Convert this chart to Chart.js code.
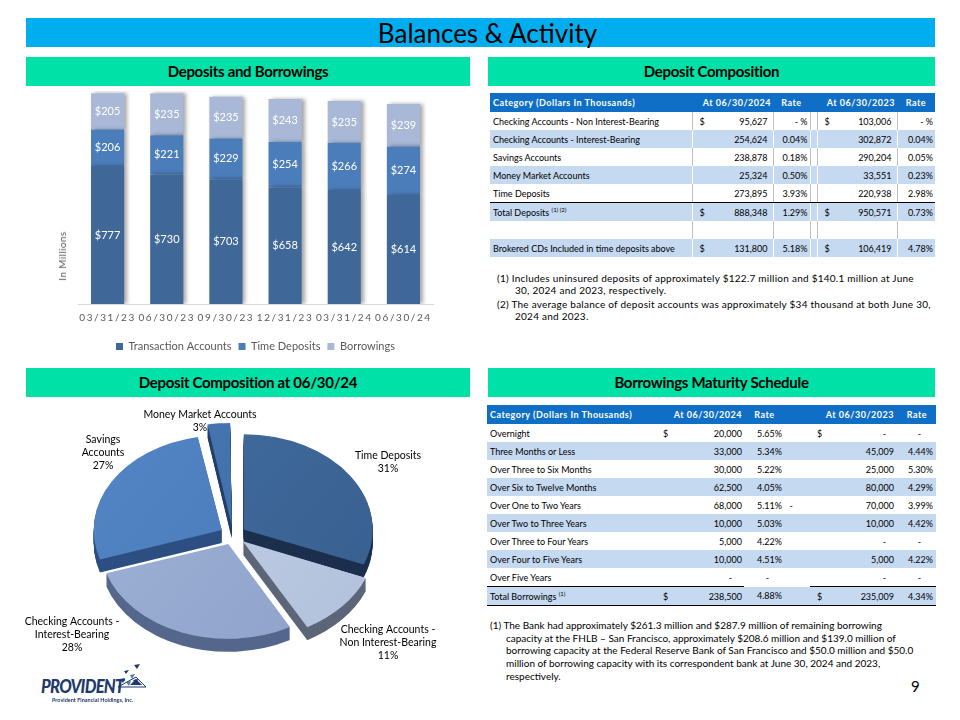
<!DOCTYPE html>
<html>
<head>
<meta charset="utf-8">
<title>Balances & Activity</title>
<script src="https://cdn.jsdelivr.net/npm/chart.js@4.4.1/dist/chart.umd.min.js"></script>
<style>
    body { margin: 0; width: 960px; height: 720px; background: #fff; position: relative; overflow: hidden; font-family: Lato, 'Open Sans', sans-serif; color: #000; }
    .abs { position: absolute; }
    .title-bar { left: 26px; top: 18px; width: 909px; height: 29px; background: #00AEEF; text-align: center; line-height: 30px; font-size: 26px; box-sizing: border-box; padding-left: 14px; }
    .sec { height: 29px; background: #00E1A7; text-align: center; line-height: 29px; font-size: 15px; font-weight: bold; letter-spacing: -0.3px; }
    .yt { left: 62px; top: 256px; transform: translate(-50%, -50%) rotate(-90deg); font-size: 10px; color: #595959; white-space: nowrap; letter-spacing: 0.4px; }
    table.t { position: absolute; border-collapse: collapse; table-layout: fixed; font-size: 9px; }
    table.t td { padding: 0; height: 18px; white-space: nowrap; overflow: visible; vertical-align: middle; }
    table.t tr.h td { background: #0F6FC6; color: #fff; font-weight: bold; height: 19px; font-size: 9px; letter-spacing: 0.5px; }
    table.t tr.b td { background: #C5D9F1; }
    table.t td.lab { padding-left: 3px; }
    table.t td.r { text-align: right; padding-right: 2px; }
    table.t td.c { text-align: center; }
    .mv { display: flex; justify-content: space-between; }
    #dep td.dv { border-left: 1px solid #BFBFBF; }
    #dep tr.b td.dv { border-left: 1px solid #fff; }
    #dep tr.line td { border-bottom: 1px solid #000; }
    #bor tr.tot td { border-bottom: 1px solid #000; }
    #bor tr.tot td.tl { border-top: 1px solid #000; }
    sup { font-size: 6px; vertical-align: 4px; letter-spacing: 0; }
    .note { font-size: 10px; line-height: 12px; }
    .note p { margin: 0 0 2px 0; padding-left: 18px; text-indent: -18px; }
</style>
</head>
<body>

<div class="abs title-bar">Balances &amp; Activity</div>
<div class="abs sec" style="left:26px; top:57px; width:444px;">Deposits and Borrowings</div>
<div class="abs sec" style="left:488px; top:57px; width:447px;">Deposit Composition</div>
<div class="abs sec" style="left:26px; top:368px; width:444px;">Deposit Composition at 06/30/24</div>
<div class="abs sec" style="left:488px; top:368px; width:447px;">Borrowings Maturity Schedule</div>

<div class="abs" style="left:26px; top:86px; width:444px; height:278px;"><canvas id="chart-bars"></canvas></div>
<div class="abs yt">In Millions</div>

<div class="abs" style="left:10px; top:397px; width:460px; height:276px;"><canvas id="chart-pie"></canvas></div>

<table class="t" id="dep" style="left:490px; top:93px; width:445px;">
    <colgroup><col style="width:202px"><col style="width:81px"><col style="width:37px"><col style="width:7px"><col style="width:80px"><col style="width:38px"></colgroup>
    <tbody id="dep-body"></tbody>
</table>

<div class="abs note" style="left:497px; top:272px; width:450px; letter-spacing:0.25px;">
    <p>(1) Includes uninsured deposits of approximately $122.7 million and $140.1 million at June<br>30, 2024 and 2023, respectively.</p>
    <p>(2) The average balance of deposit accounts was approximately $34 thousand at both June 30,<br>2024 and 2023.</p>
</div>

<table class="t" id="bor" style="left:487px; top:405px; width:449px;">
    <colgroup><col style="width:173px"><col style="width:84px"><col style="width:41px"><col style="width:25px"><col style="width:88px"><col style="width:38px"></colgroup>
    <tbody id="bor-body"></tbody>
</table>

<div class="abs note" style="left:490px; top:619px; width:460px; line-height:12.7px;">
    <p style="padding-left:16px; text-indent:-16px;">(1) The Bank had approximately $261.3 million and $287.9 million of remaining borrowing<br>capacity at the FHLB – San Francisco, approximately $208.6 million and $139.0 million of<br>borrowing capacity at the Federal Reserve Bank of San Francisco and $50.0 million and $50.0<br>million of borrowing capacity with its correspondent bank at June 30, 2024 and 2023,<br>respectively.</p>
</div>

<div class="abs" style="left:911px; top:677px; font-size:15px;">9</div>

<!-- logo -->
<div class="abs" style="left:41px; top:675px; font-size:18px; font-weight:900; font-style:italic; color:#1F3A6E; letter-spacing:-0.8px; transform:scaleX(0.92); transform-origin:left;">PROVIDENT</div>
<svg class="abs" style="left:116px; top:663px;" width="32" height="32" viewBox="0 0 32 32">
    <polygon points="18,2 24,1 21,6" fill="#1F3A6E"/>
    <polygon points="8,8 13,7 10,11" fill="#1F3A6E"/>
    <polygon points="14,12 19,11 16,16" fill="#5A79A8"/>
    <polygon points="4,16 9,15 7,20" fill="#1F3A6E"/>
    <polygon points="10,19 15,18 13,23" fill="#5A79A8"/>
    <polygon points="17,17 22,16 20,22" fill="#1F3A6E"/>
    <polygon points="2,24 30,24 20,14" fill="none" stroke="#1F3A6E" stroke-width="1"/>
    <polygon points="14,22 26,22 20,16" fill="#1F3A6E"/>
</svg>
<div class="abs" style="left:52px; top:697px; font-size:5.5px; font-weight:bold; color:#1F3A6E; white-space:nowrap;">Provident Financial Holdings, Inc.</div>

<script>
// ========================================
// BALANCES & ACTIVITY — DATA
// ========================================

// --- Deposits and Borrowings (in millions) ---
const quarters = ['03/31/23', '06/30/23', '09/30/23', '12/31/23', '03/31/24', '06/30/24'];
const transactionAccounts = [777, 730, 703, 658, 642, 614];
const timeDeposits = [206, 221, 229, 254, 266, 274];
const borrowings = [205, 235, 235, 243, 235, 239];
const barSeriesNames = ['Transaction Accounts', 'Time Deposits', 'Borrowings'];

// --- Deposit Composition at 06/30/24 (%) ---
const pieLabels = [
    ['Time Deposits'],
    ['Checking Accounts -', 'Non Interest-Bearing'],
    ['Checking Accounts -', 'Interest-Bearing'],
    ['Savings', 'Accounts'],
    ['Money Market Accounts']
];
const pieShares = [31, 11, 28, 27, 3];

// --- Deposit Composition table ---
const depositHeader = ['Category (Dollars In Thousands)', 'At 06/30/2024', 'Rate', 'At 06/30/2023', 'Rate'];
const depositCategories = ['Checking Accounts - Non Interest-Bearing', 'Checking Accounts - Interest-Bearing', 'Savings Accounts', 'Money Market Accounts', 'Time Deposits', 'Total Deposits', '', 'Brokered CDs Included in time deposits above'];
const deposits2024 = ['95,627', '254,624', '238,878', '25,324', '273,895', '888,348', '', '131,800'];
const depositRates2024 = ['- %', '0.04%', '0.18%', '0.50%', '3.93%', '1.29%', '', '5.18%'];
const deposits2023 = ['103,006', '302,872', '290,204', '33,551', '220,938', '950,571', '', '106,419'];
const depositRates2023 = ['- %', '0.04%', '0.05%', '0.23%', '2.98%', '0.73%', '', '4.78%'];

// --- Borrowings Maturity Schedule table ---
const borrowHeader = ['Category (Dollars In Thousands)', 'At 06/30/2024', 'Rate', 'At 06/30/2023', 'Rate'];
const borrowCategories = ['Overnight', 'Three Months or Less', 'Over Three to Six Months', 'Over Six to Twelve Months', 'Over One to Two Years', 'Over Two to Three Years', 'Over Three to Four Years', 'Over Four to Five Years', 'Over Five Years', 'Total Borrowings'];
const borrow2024 = ['20,000', '33,000', '30,000', '62,500', '68,000', '10,000', '5,000', '10,000', '-', '238,500'];
const borrowRates2024 = ['5.65%', '5.34%', '5.22%', '4.05%', '5.11%', '5.03%', '4.22%', '4.51%', '-', '4.88%'];
const borrow2023 = ['-', '45,009', '25,000', '80,000', '70,000', '10,000', '-', '5,000', '-', '235,009'];
const borrowRates2023 = ['-', '4.44%', '5.30%', '4.29%', '3.99%', '4.42%', '-', '4.22%', '-', '4.34%'];

// ========================================
// TABLES
// ========================================

const dash = v => v === '-';

function moneyCell(sign, val, padR) {
    return `<div class="mv" style="padding:0 ${padR}px 0 7px"><span>${sign}</span><span>${val}</span></div>`;
}

// --- Deposit table ---
(function () {
    const body = document.getElementById('dep-body');
    let html = `<tr class="h">
        <td class="lab">${depositHeader[0]}</td>
        <td class="r" style="padding-right:2px">${depositHeader[1]}</td>
        <td class="c">${depositHeader[2]}</td>
        <td></td>
        <td class="r" style="padding-right:2px">${depositHeader[3]}</td>
        <td class="c">${depositHeader[4]}</td></tr>`;
    depositCategories.forEach((cat, i) => {
        const blue = [1, 3, 5, 7].includes(i);
        const cls = (blue ? 'b' : '') + (i === 4 ? ' line' : '');
        const sign = [0, 5, 7].includes(i) ? '$' : '';
        const label = i === 5 ? `${cat} <sup>(1) (2)</sup>` : cat;
        html += `<tr class="${cls}">
            <td class="lab">${label}</td>
            <td class="dv">${moneyCell(sign, deposits2024[i], 5)}</td>
            <td class="dv r">${depositRates2024[i]}</td>
            <td class="dv"></td>
            <td class="dv">${moneyCell(sign, deposits2023[i], 5)}</td>
            <td class="dv r">${depositRates2023[i]}</td></tr>`;
    });
    body.innerHTML = html;
})();

// --- Borrowings table ---
(function () {
    const body = document.getElementById('bor-body');
    let html = `<tr class="h">
        <td class="lab">${borrowHeader[0]}</td>
        <td class="r" style="padding-right:2px">${borrowHeader[1]}</td>
        <td class="c">${borrowHeader[2]}</td>
        <td></td>
        <td class="r" style="padding-right:4px">${borrowHeader[3]}</td>
        <td class="c">${borrowHeader[4]}</td></tr>`;
    borrowCategories.forEach((cat, i) => {
        const last = i === borrowCategories.length - 1;
        const blue = i % 2 === 1;
        const sign = (i === 0 || last) ? '$' : '';
        const label = last ? `${cat} <sup>(1)</sup>` : cat;
        const stray = i === 4 ? '&nbsp;&nbsp;-' : '';
        html += `<tr class="${blue ? 'b' : ''}${last ? ' tot' : ''}">
            <td class="lab tl">${label}</td>
            <td class="tl"><div class="mv" style="padding:0 ${dash(borrow2024[i]) ? 12 : 2}px 0 3px"><span>${sign}</span><span>${borrow2024[i]}</span></div></td>
            <td class="r" style="padding-right:${dash(borrowRates2024[i]) ? 16 : 3}px">${borrowRates2024[i]}</td>
            <td>${stray}</td>
            <td class="tl"><div class="mv" style="padding:0 ${dash(borrow2023[i]) ? 12 : 4}px 0 7px"><span>${sign}</span><span>${borrow2023[i]}</span></div></td>
            <td class="r tl" style="padding-right:${dash(borrowRates2023[i]) ? 15 : 3}px">${borrowRates2023[i]}</td></tr>`;
    });
    body.innerHTML = html;
})();

// ========================================
// CHARTS
// ========================================

Chart.defaults.font.family = "Lato, 'Open Sans', sans-serif";
Chart.defaults.animation = false;

// --- Bar chart extras: shadow, value labels, spaced x ticks ---
const barExtras = {
    id: 'barExtras',
    beforeDraw(chart) {
        chart.ctx.letterSpacing = '0px';
    },
    beforeDatasetsDraw(chart) {
        const ctx = chart.ctx;
        ctx.save();
        ctx.shadowColor = 'rgba(0, 0, 0, 0.35)';
        ctx.shadowBlur = 4;
        ctx.shadowOffsetX = 3;
        ctx.shadowOffsetY = 0;
    },
    afterDatasetsDraw(chart) {
        const ctx = chart.ctx;
        ctx.restore();
        ctx.save();
        ctx.font = "11px Lato, 'Open Sans', sans-serif";
        ctx.fillStyle = '#ffffff';
        ctx.textAlign = 'center';
        ctx.textBaseline = 'middle';
        chart.data.datasets.forEach((ds, di) => {
            chart.getDatasetMeta(di).data.forEach((bar, i) => {
                ctx.fillText('$' + ds.data[i], bar.x, (bar.y + bar.base) / 2);
            });
        });
        ctx.restore();
        // x tick labels come after this (ticks.z = 1), with wide tracking
        ctx.letterSpacing = '1.6px';
    },
    afterDraw(chart) {
        chart.ctx.letterSpacing = '0px';
    }
};

new Chart(document.getElementById('chart-bars'), {
    type: 'bar',
    data: {
        labels: quarters,
        datasets: [
            { label: barSeriesNames[0], data: transactionAccounts, backgroundColor: '#3F6798' },
            { label: barSeriesNames[1], data: timeDeposits, backgroundColor: '#4B7DBA' },
            { label: barSeriesNames[2], data: borrowings, backgroundColor: '#A8B8D6' },
        ]
    },
    options: {
        responsive: true,
        maintainAspectRatio: false,
        events: [],
        layout: { padding: { left: 52, right: 37, top: 5, bottom: 2 } },
        datasets: { bar: { barPercentage: 0.7, categoryPercentage: 0.8, borderWidth: 0 } },
        plugins: {
            tooltip: { enabled: false },
            legend: {
                position: 'bottom',
                labels: { boxWidth: 7, boxHeight: 7, padding: 7, color: '#595959', font: { size: 11 } }
            }
        },
        scales: {
            x: {
                stacked: true,
                grid: { display: false, drawTicks: false },
                border: { display: true, color: '#D9D9D9' },
                ticks: { z: 1, color: '#595959', font: { size: 10 }, padding: 8, maxRotation: 0, autoSkip: false },
                afterFit(scale) { scale.height += 2; }
            },
            y: { stacked: true, display: false, min: 0, max: 1200 }
        }
    },
    plugins: [barExtras]
});

// --- Pie chart: tilted, exploded, with depth ---
const pieTop = [['#4670A3', '#345C8C'], ['#C6D2E8', '#AEBED9'], ['#A2B4D8', '#8A9FC8'], ['#5687C6', '#4475B5'], ['#4A79B4', '#3A68A2']];
const pieSide = ['#1C2F4D', '#5C6678', '#55678C', '#2D4F82', '#22406B'];

function squash(ctx, cx, cy, tilt) {
    ctx.translate(cx, cy);
    ctx.scale(1, tilt);
    ctx.translate(-cx, -cy);
}

function topFill(context) {
    const c = pieTop[context.dataIndex];
    const area = context.chart.chartArea;
    if (!area) return c[0];
    const g = context.chart.ctx.createLinearGradient(area.left, area.top, area.right, area.bottom);
    g.addColorStop(0, c[0]);
    g.addColorStop(1, c[1]);
    return g;
}

const pie3d = {
    id: 'pie3d',
    beforeDatasetsDraw(chart, args, opts) {
        const ctx = chart.ctx;
        const arcs = chart.getDatasetMeta(0).data;
        const cx = arcs[0].x, cy = arcs[0].y;
        ctx.save();
        for (let d = opts.depth; d > 0; d--) {
            ctx.save();
            ctx.translate(0, d);
            squash(ctx, cx, cy, opts.tilt);
            arcs.forEach((arc, i) => {
                const side = Object.create(arc);
                side.options = Object.assign({}, arc.options, { backgroundColor: pieSide[i] });
                side.draw(ctx);
            });
            ctx.restore();
        }
        squash(ctx, cx, cy, opts.tilt);
    },
    afterDatasetsDraw(chart, args, opts) {
        const ctx = chart.ctx;
        ctx.restore();
        const arcs = chart.getDatasetMeta(0).data;
        const cx = arcs[0].x, cy = arcs[0].y;
        ctx.save();
        ctx.font = "10.5px Lato, 'Open Sans', sans-serif";
        ctx.fillStyle = '#000';
        ctx.textAlign = 'center';
        ctx.textBaseline = 'middle';
        pieLabels.forEach((lines, i) => {
            const all = lines.concat([pieShares[i] + '%']);
            const [dx, dy] = opts.labelOffsets[i];
            const y0 = cy + dy - (all.length - 1) * opts.lineHeight / 2;
            all.forEach((t, k) => ctx.fillText(t, cx + dx, y0 + k * opts.lineHeight));
        });
        ctx.restore();
    }
};

new Chart(document.getElementById('chart-pie'), {
    type: 'pie',
    data: {
        labels: pieLabels.map(l => l.join(' ')),
        datasets: [{
            data: pieShares,
            backgroundColor: topFill,
            borderWidth: 0,
            offset: 52,
        }]
    },
    options: {
        responsive: true,
        maintainAspectRatio: false,
        events: [],
        rotation: 0,
        radius: 128,
        layout: { padding: { left: 0, right: 14, top: 0, bottom: 0 } },
        plugins: {
            legend: { display: false },
            tooltip: { enabled: false },
            pie3d: {
                tilt: 0.74,
                depth: 13,
                lineHeight: 13,
                labelOffsets: [[155, -73], [155, 108], [-161, 100], [-130, -82], [-33, -114]]
            }
        }
    },
    plugins: [pie3d]
});
</script>
</body>
</html>
